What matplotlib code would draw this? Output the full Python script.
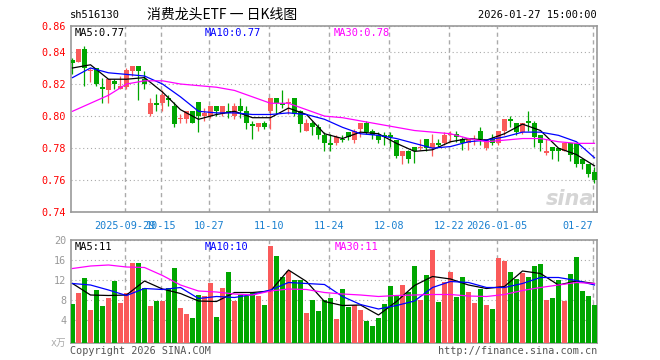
import numpy as np
import matplotlib
matplotlib.use('Agg')
import matplotlib.pyplot as plt

plt.rcParams['font.family'] = ['DejaVu Sans Mono', 'Noto Sans CJK SC']

code = 'sh516130'
title = '消费龙头ETF 一 日K线图'
stamp = '2026-01-27 15:00:00'

# daily candles, 2025-09-16 .. 2026-01-27
opens = [0.835, 0.834, 0.842, 0.828, 0.830, 0.818, 0.816, 0.822, 0.817, 0.818,
         0.828, 0.831, 0.823, 0.801, 0.808, 0.808, 0.811, 0.806, 0.798, 0.798,
         0.803, 0.809, 0.800, 0.800, 0.806, 0.801, 0.803, 0.800, 0.806, 0.803,
         0.795, 0.793, 0.796, 0.803, 0.811, 0.808, 0.808, 0.811, 0.803, 0.791,
         0.796, 0.793, 0.788, 0.783, 0.783, 0.786, 0.790, 0.785, 0.792, 0.796,
         0.791, 0.788, 0.788, 0.788, 0.785, 0.775, 0.778, 0.781, 0.780, 0.786,
         0.780, 0.783, 0.783, 0.788, 0.789, 0.786, 0.783, 0.785, 0.791, 0.780,
         0.786, 0.783, 0.791, 0.798, 0.796, 0.790, 0.797, 0.796, 0.788, 0.777,
         0.781, 0.780, 0.778, 0.783, 0.783, 0.773, 0.770, 0.765]
highs = [0.836, 0.842, 0.844, 0.830, 0.830, 0.824, 0.823, 0.823, 0.825, 0.830,
         0.831, 0.831, 0.828, 0.811, 0.814, 0.816, 0.813, 0.809, 0.801, 0.803,
         0.803, 0.809, 0.805, 0.806, 0.806, 0.806, 0.808, 0.808, 0.811, 0.806,
         0.797, 0.796, 0.797, 0.811, 0.811, 0.816, 0.811, 0.811, 0.804, 0.798,
         0.797, 0.795, 0.790, 0.789, 0.788, 0.788, 0.790, 0.792, 0.796, 0.797,
         0.792, 0.790, 0.790, 0.790, 0.785, 0.778, 0.779, 0.781, 0.786, 0.786,
         0.789, 0.786, 0.790, 0.791, 0.791, 0.787, 0.786, 0.788, 0.793, 0.786,
         0.789, 0.791, 0.798, 0.800, 0.796, 0.796, 0.803, 0.797, 0.788, 0.786,
         0.781, 0.780, 0.783, 0.783, 0.783, 0.773, 0.770, 0.768]
lows = [0.826, 0.834, 0.819, 0.821, 0.819, 0.808, 0.808, 0.817, 0.817, 0.817,
        0.825, 0.810, 0.817, 0.800, 0.803, 0.803, 0.806, 0.793, 0.796, 0.796,
        0.796, 0.790, 0.797, 0.799, 0.800, 0.800, 0.799, 0.798, 0.799, 0.792,
        0.786, 0.791, 0.792, 0.792, 0.801, 0.805, 0.801, 0.800, 0.790, 0.791,
        0.788, 0.786, 0.778, 0.778, 0.782, 0.784, 0.785, 0.783, 0.787, 0.789,
        0.786, 0.783, 0.782, 0.781, 0.774, 0.770, 0.771, 0.771, 0.779, 0.778,
        0.775, 0.781, 0.782, 0.784, 0.784, 0.779, 0.779, 0.782, 0.782, 0.779,
        0.782, 0.782, 0.788, 0.793, 0.788, 0.789, 0.791, 0.781, 0.778, 0.776,
        0.773, 0.772, 0.778, 0.772, 0.768, 0.767, 0.762, 0.758]
closes = [0.833, 0.842, 0.830, 0.829, 0.820, 0.817, 0.823, 0.820, 0.819, 0.829,
          0.831, 0.828, 0.820, 0.808, 0.807, 0.813, 0.810, 0.795, 0.798, 0.803,
          0.796, 0.800, 0.802, 0.806, 0.803, 0.806, 0.802, 0.806, 0.803, 0.796,
          0.794, 0.796, 0.793, 0.811, 0.808, 0.807, 0.809, 0.801, 0.795, 0.796,
          0.793, 0.788, 0.783, 0.782, 0.787, 0.785, 0.787, 0.791, 0.796, 0.790,
          0.788, 0.785, 0.787, 0.787, 0.775, 0.778, 0.773, 0.778, 0.781, 0.780,
          0.783, 0.782, 0.788, 0.789, 0.787, 0.783, 0.786, 0.786, 0.786, 0.786,
          0.783, 0.791, 0.798, 0.797, 0.790, 0.796, 0.796, 0.787, 0.783, 0.778,
          0.778, 0.778, 0.783, 0.776, 0.770, 0.770, 0.764, 0.760]
# volume, x万
vols = [7.3, 9.5, 12.5, 6.0, 10.0, 6.8, 8.5, 11.8, 7.5, 9.5,
        15.4, 15.4, 10.5, 6.8, 7.8, 7.8, 10.5, 14.4, 6.4, 5.2,
        4.5, 9.0, 8.8, 11.4, 4.7, 10.5, 13.7, 7.9, 9.0, 8.8,
        9.5, 8.8, 7.0, 18.8, 16.8, 12.7, 13.8, 12.0, 12.0, 5.5,
        8.0, 5.8, 8.0, 8.5, 4.2, 10.2, 6.7, 7.1, 6.0, 3.8,
        2.9, 4.5, 7.3, 10.8, 8.9, 11.0, 9.7, 14.8, 8.0, 13.1,
        18.0, 7.7, 11.6, 13.7, 8.7, 12.7, 9.7, 7.5, 10.2, 7.0,
        6.2, 16.5, 15.9, 13.7, 12.3, 13.5, 12.7, 14.9, 15.3, 8.0,
        8.5, 12.0, 7.9, 13.2, 16.7, 9.8, 8.8, 7.0]

# moving averages every 3rd day
ma_idx = list(range(0, 88, 3))
ma5 = [0.830, 0.832, 0.823, 0.823, 0.824, 0.815, 0.804, 0.798, 0.801, 0.803,
       0.799, 0.799, 0.805, 0.801, 0.789, 0.786, 0.790, 0.789, 0.783, 0.778,
       0.779, 0.784, 0.786, 0.785, 0.789, 0.795, 0.791, 0.780, 0.776, 0.769]
ma10 = [0.824, 0.830, 0.827, 0.826, 0.825, 0.820, 0.812, 0.803, 0.802, 0.802,
        0.801, 0.801, 0.802, 0.801, 0.798, 0.793, 0.789, 0.788, 0.786, 0.783,
        0.780, 0.781, 0.784, 0.785, 0.787, 0.790, 0.790, 0.788, 0.784, 0.774]
ma30 = [0.803, 0.808, 0.813, 0.820, 0.822, 0.822, 0.820, 0.819, 0.818, 0.816,
        0.812, 0.808, 0.808, 0.804, 0.800, 0.799, 0.797, 0.795, 0.793, 0.791,
        0.790, 0.789, 0.786, 0.784, 0.785, 0.786, 0.786, 0.784, 0.783, 0.783]
vma5 = [11.3, 9.0, 8.9, 9.0, 11.8, 10.2, 9.3, 7.8, 7.7, 9.5,
        9.5, 9.8, 14.0, 11.7, 7.7, 6.9, 7.0, 5.0, 7.7, 10.9,
        12.7, 12.2, 11.0, 10.3, 10.7, 13.8, 13.3, 11.0, 11.8, 11.3]
vma10 = [11.3, 11.0, 10.0, 8.9, 10.3, 10.1, 10.5, 8.3, 8.7, 8.5,
         9.1, 10.0, 11.5, 11.3, 11.1, 8.7, 7.1, 6.2, 6.9, 7.8,
         10.5, 11.7, 11.5, 10.5, 10.5, 11.3, 12.5, 12.5, 11.9, 11.0]
vma30 = [14.3, 14.8, 15.0, 14.6, 14.5, 12.9, 11.0, 9.8, 9.6, 9.2,
         9.0, 9.8, 10.2, 10.1, 9.5, 9.2, 9.0, 8.7, 8.9, 9.0,
         9.1, 9.1, 8.8, 8.7, 9.1, 9.9, 10.5, 11.0, 11.5, 11.3]

tick_idx = [9, 15, 23, 33, 43, 53, 63, 71, 87]
tick_lab = ['2025-09-29', '10-15', '10-27', '11-10', '11-24', '12-08',
            '12-22', '2026-01-05', '01-27']
price_ticks = [0.74, 0.76, 0.78, 0.80, 0.82, 0.84, 0.856]
price_lab = ['0.74', '0.76', '0.78', '0.80', '0.82', '0.84', '0.86']
vol_ticks = [4, 8, 12, 16, 20]

RED = '#fa5a5a'
GREEN = '#00a600'
GRID = '#aaaaaa'
FRAME = '#999999'
W, H = 660, 360
CJK = ['Noto Sans CJK SC', 'DejaVu Sans']


def box(l, t, r, b):
    return [l / W, 1 - b / H, (r - l) / W, (b - t) / H]


fig = plt.figure(figsize=(6.6, 3.6), dpi=100)
ax = fig.add_axes(box(70.7, 26.3, 597.3, 212.3))
axv = fig.add_axes(box(70.7, 240, 597.3, 343))

x = np.arange(len(closes))
o = np.array(opens)
c = np.array(closes)
up = c >= o
col = np.where(up, RED, GREEN)

# candles
ax.vlines(x, lows, highs, colors=col, lw=0.9, zorder=3)
body = np.maximum(np.abs(c - o), 0.0005)
ax.bar(x, body, bottom=np.minimum(o, c), width=0.8, color=col, lw=0, zorder=3)

ax.plot(ma_idx, ma5, color='black', lw=0.9, zorder=4)
ax.plot(ma_idx, ma10, color='#0000ff', lw=0.9, zorder=4)
ax.plot(ma_idx, ma30, color='#ff00ff', lw=0.9, zorder=4)

ax.set_xlim(-0.3, 87.47)
ax.set_ylim(0.74, 0.856)
ax.set_yticks(price_ticks, price_lab)
ax.set_xticks(np.array(tick_idx) - 0.3, tick_lab)
ax.tick_params(axis='y', length=0, pad=3.4, labelsize=7.3, labelcolor='red')
ax.tick_params(axis='x', length=0, pad=6, labelsize=7.3, labelcolor='#1a80d0')
ax.get_xticklabels()[-1].set_horizontalalignment('right')
ax.yaxis.grid(True, color=GRID, lw=0.8, linestyle=(0, (1, 2.5)))

# volume
axv.bar(x, np.array(vols) + 0.6, bottom=-0.6, width=0.8, color=col, lw=0, zorder=3)
axv.plot(ma_idx, vma5, color='black', lw=0.9, zorder=4)
axv.plot(ma_idx, vma10, color='#0000ff', lw=0.9, zorder=4)
axv.plot(ma_idx, vma30, color='#ff00ff', lw=0.9, zorder=4)
axv.set_xlim(-0.3, 87.47)
axv.set_ylim(-0.6, 20)
axv.set_yticks(vol_ticks)
axv.set_xticks([])
axv.tick_params(axis='y', length=0, pad=3, labelsize=7.3, labelcolor='#999999')
axv.yaxis.grid(True, color=GRID, lw=0.8, linestyle=(0, (1, 2.5)))

for a in (ax, axv):
    a.set_axisbelow(True)
    for p in tick_idx:
        a.axvline(p - 0.3, color=GRID, lw=1, linestyle=(0, (3, 2.5)), zorder=1)
    for s in a.spines.values():
        s.set_color(FRAME)
        s.set_linewidth(1.2)

# watermark
ax.text(0.995, 0.02, 'sina', transform=ax.transAxes, ha='right', va='bottom',
        fontsize=15, fontweight='bold', style='italic', color='#d5d5d5',
        family='DejaVu Sans', zorder=2)

# header texts
fig.text(70 / W, 1 - 15 / H, code, fontsize=7.5, va='center')
fig.text(222 / W, 1 - 15 / H, title, fontsize=10, ha='center', va='center', family=CJK)
fig.text(597 / W, 1 - 15 / H, stamp, fontsize=7.5, ha='right', va='center')

fig.text(75 / W, 1 - 33.5 / H, 'MA5:0.77', fontsize=7.5, va='center', color='black')
fig.text(205 / W, 1 - 33.5 / H, 'MA10:0.77', fontsize=7.5, va='center', color='#0000ff')
fig.text(334 / W, 1 - 33.5 / H, 'MA30:0.78', fontsize=7.5, va='center', color='#ff00ff')

fig.text(75 / W, 1 - 246.5 / H, 'MA5:11', fontsize=7.5, va='center', color='black')
fig.text(205 / W, 1 - 246.5 / H, 'MA10:10', fontsize=7.5, va='center', color='#0000ff')
fig.text(335 / W, 1 - 246.5 / H, 'MA30:11', fontsize=7.5, va='center', color='#ff00ff')

fig.text(66 / W, 1 - 343 / H, 'x万', fontsize=7, ha='right', va='center',
         color='#aaaaaa', family=['DejaVu Sans Mono', 'Noto Sans CJK SC'])
fig.text(70 / W, 1 - 350.5 / H, 'Copyright 2026 SINA.COM', fontsize=7.3, va='center', color='#555555')
fig.text(597 / W, 1 - 350.5 / H, 'http://finance.sina.com.cn', fontsize=7.3, ha='right',
         va='center', color='#555555')

fig.savefig('out.png', dpi=100)
